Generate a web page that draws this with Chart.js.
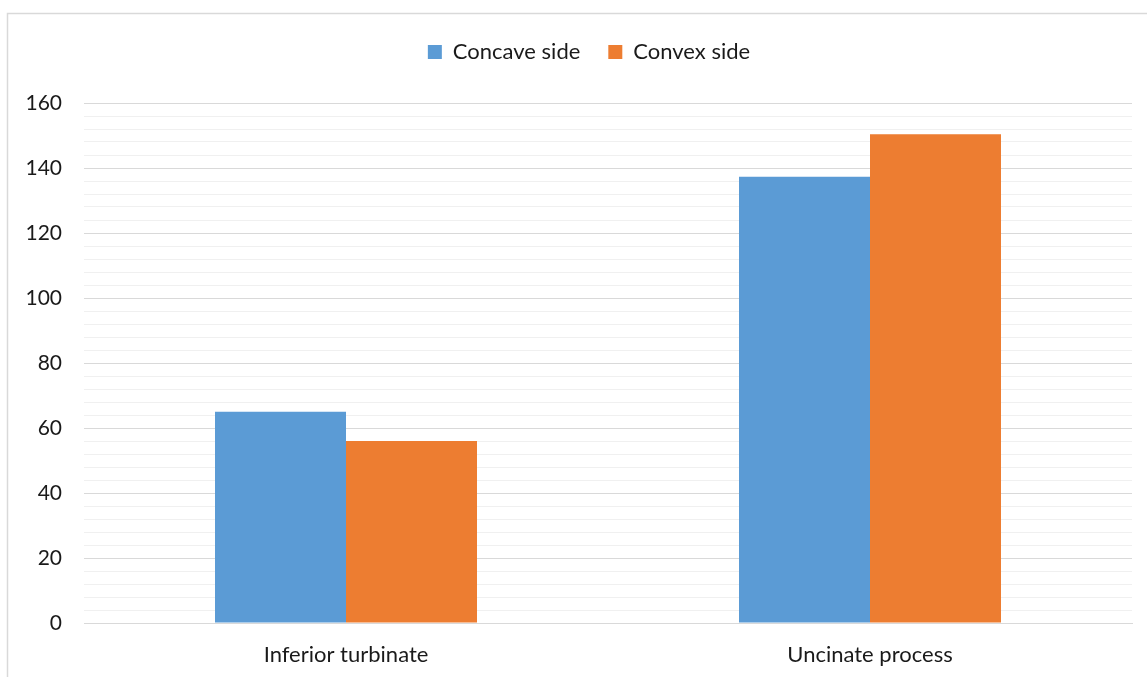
<!DOCTYPE html>
<html>
<head>
<meta charset="utf-8">
<script src="https://cdn.jsdelivr.net/npm/chart.js@4/dist/chart.umd.min.js"></script>
<style>
  html, body { margin: 0; padding: 0; background: #ffffff; }
  #wrap { width: 1147px; height: 677px; }
</style>
</head>
<body>
<div id="wrap"><canvas id="chart" width="1147" height="677"></canvas></div>
<script>
// Chart data
const categories = ['Inferior turbinate', 'Uncinate process'];
const seriesNames = ['Concave side', 'Convex side'];
const concaveSide = [65, 137.3];
const convexSide = [56, 150.4];
const yTickMin = 0;
const yTickMax = 160;
const yMajorStep = 20;
const yMinorStep = 4;

const FONT = 'Lato, "Open Sans", sans-serif';
const LABEL_SIZE = 22;
const TICK_SIZE = 21;
const TEXT = '#1a1a1a';

// Thin frame along the top and left edges of the chart box
const framePlugin = {
  id: 'frame',
  beforeDraw(chart) {
    const c = chart.ctx;
    c.save();
    c.fillStyle = '#ffffff';
    c.fillRect(0, 0, chart.width, chart.height);
    c.strokeStyle = '#d9d9d9';
    c.lineWidth = 1.5;
    c.beginPath();
    c.moveTo(7.5, chart.height);
    c.lineTo(7.5, 13.5);
    c.lineTo(chart.width, 13.5);
    c.stroke();
    c.restore();
  }
};

// Centre the legend over the framed box rather than over the padded canvas
const legendShift = {
  id: 'legendShift',
  afterLayout(chart) {
    const lg = chart.legend;
    if (lg) { lg.left += 13; lg.right += 13; }
  }
};

new Chart(document.getElementById('chart'), {
  type: 'bar',
  data: {
    labels: categories,
    datasets: [
      { label: seriesNames[0], data: concaveSide, backgroundColor: '#5b9bd5', borderWidth: 0 },
      { label: seriesNames[1], data: convexSide, backgroundColor: '#ed7d31', borderWidth: 0 }
    ]
  },
  options: {
    responsive: false,
    animation: false,
    devicePixelRatio: 1,
    layout: { padding: { left: 20, right: 15, top: 13, bottom: 11 } },
    datasets: { bar: { categoryPercentage: 0.5, barPercentage: 1.0 } },
    plugins: {
      legend: {
        position: 'top',
        labels: {
          boxWidth: 14,
          boxHeight: 14,
          padding: 28,
          color: TEXT,
          font: { family: FONT, size: LABEL_SIZE }
        }
      },
      tooltip: { enabled: false }
    },
    scales: {
      x: {
        type: 'category',
        position: 'bottom',
        offset: true,
        grid: { display: false, drawTicks: false },
        border: { display: true, color: '#d9d9d9', width: 1 },
        ticks: { color: TEXT, padding: 19, font: { family: FONT, size: LABEL_SIZE } },
        afterFit(scale) { scale.height = 43; }
      },
      gap: {
        // empty band between the legend and the plot
        type: 'category',
        position: 'top',
        labels: categories,
        grid: { display: false, drawTicks: false },
        border: { display: false },
        ticks: { display: false },
        afterFit(scale) { scale.height = 30; }
      },
      y: {
        min: yTickMin,
        max: yTickMax,
        border: { display: false },
        grid: {
          drawTicks: false,
          lineWidth: 1,
          color: (ctx) => (ctx.tick && ctx.tick.value % yMajorStep === 0) ? '#d9d9d9' : '#f0f0f0'
        },
        ticks: {
          stepSize: yMinorStep,
          autoSkip: false,
          padding: 22,
          color: TEXT,
          font: { family: FONT, size: TICK_SIZE },
          callback: (v) => (v % yMajorStep === 0 ? String(v) : '')
        },
        afterFit(scale) { scale.width = 64; }
      }
    }
  },
  plugins: [framePlugin, legendShift]
});
</script>
</body>
</html>
